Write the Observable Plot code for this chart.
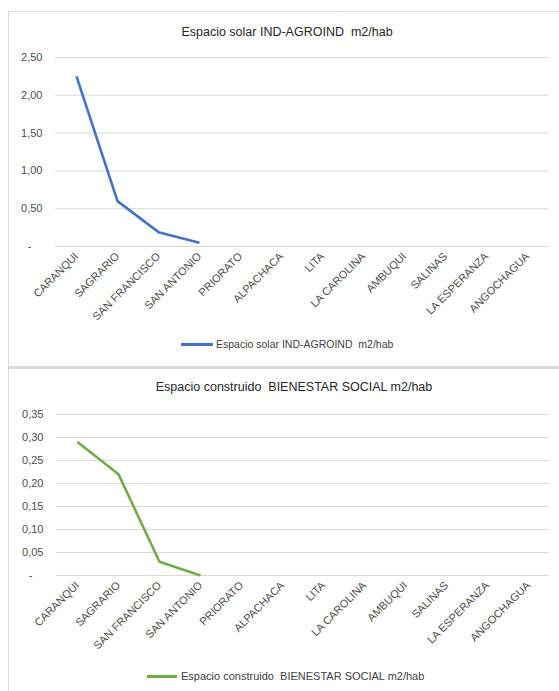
<!DOCTYPE html>
<html>
<head>
<meta charset="utf-8">
<script src="https://cdn.jsdelivr.net/npm/d3@7"></script>
<script src="https://cdn.jsdelivr.net/npm/@observablehq/plot@0.6"></script>
<style>
  html, body { margin: 0; padding: 0; background: #fff; }
  body { position: relative; width: 559px; height: 691px; overflow: hidden; font-family: "Liberation Sans", Arial, sans-serif; color: #404040; }
  .panel { position: absolute; left: 8px; width: 560px; border: 1px solid #d9d9d9; background: #fff; }
  .title { position: absolute; white-space: nowrap; font-size: 12.5px; color: #262626; transform: translateX(-50%); }
  .legend { position: absolute; white-space: nowrap; font-size: 10.5px; color: #404040; display: flex; align-items: center; }
  .sw { display: inline-block; width: 32px; height: 3px; margin-right: 3px; }
  .chart { position: absolute; left: 0; }
</style>
</head>
<body>
<div class="panel" style="top:11px;height:354px;"></div>
<div class="panel" style="top:366px;height:340px;border-top:3px solid #d9d9d9;"></div>
<div class="title" style="left:287px;top:25px;">Espacio solar IND-AGROIND&nbsp; m2/hab</div>
<div class="title" style="left:294px;top:380px;">Espacio construido&nbsp; BIENESTAR SOCIAL m2/hab</div>
<div id="c1" class="chart" style="top:40px;"></div>
<div id="c2" class="chart" style="top:400px;"></div>
<div class="legend" style="left:181px;top:338px;"><span class="sw" style="background:#4472C4"></span>Espacio solar IND-AGROIND&nbsp; m2/hab</div>
<div class="legend" style="left:147px;top:670px;font-size:11px;"><span class="sw" style="background:#70AD47;width:30px;margin-right:4px"></span>Espacio construido&nbsp; BIENESTAR SOCIAL m2/hab</div>
<script>
const categories = ["CARANQUI", "SAGRARIO", "SAN FRANCISCO", "SAN ANTONIO", "PRIORATO", "ALPACHACA", "LITA", "LA CAROLINA", "AMBUQUI", "SALINAS", "LA ESPERANZA", "ANGOCHAGUA"];
const solarValues = [2.25, 0.60, 0.19, 0.05, null, null, null, null, null, null, null, null];
const bienestarValues = [0.29, 0.22, 0.03, 0.00, null, null, null, null, null, null, null, null];
const solarTicks = [0, 0.5, 1.0, 1.5, 2.0, 2.5];
const bienestarTicks = [0, 0.05, 0.10, 0.15, 0.20, 0.25, 0.30, 0.35];

const fmt = d => d === 0 ? "-\u2002\u2002" : d.toFixed(2).replace(".", ",");

function makeChart(values, ticks, domainMax, color, opts) {
  const data = categories.map((c, i) => ({cat: c, v: values[i]}));
  return Plot.plot({
    width: 559,
    height: opts.height,
    marginLeft: opts.marginLeft,
    marginRight: 11,
    marginTop: opts.marginTop,
    marginBottom: opts.marginBottom,
    style: {fontFamily: "'Liberation Sans', Arial, sans-serif", fontSize: "11px", color: "#4d4d4d", background: "transparent"},
    x: {type: "point", domain: categories, padding: 0.5},
    y: {domain: [0, domainMax]},
    marks: [
      Plot.gridY(ticks, {stroke: "#d9d9d9", strokeOpacity: 1, strokeWidth: 1}),
      Plot.axisY(ticks, {tickFormat: fmt, tickSize: 0, tickPadding: 13, label: null, fontSize: 11}),
      Plot.axisX({tickRotate: -45, tickSize: 0, tickPadding: 8, label: null, fontSize: 11}),
      Plot.line(data.filter(d => d.v != null), {x: "cat", y: "v", stroke: color, strokeWidth: 2.6, strokeLinejoin: "round", strokeLinecap: "butt"})
    ]
  });
}

document.getElementById("c1").appendChild(makeChart(solarValues, solarTicks, 2.5, "#4472C4", {height: 300, marginLeft: 55, marginTop: 17, marginBottom: 94}));
document.getElementById("c2").appendChild(makeChart(bienestarValues, bienestarTicks, 0.35, "#70AD47", {height: 260, marginLeft: 56, marginTop: 14, marginBottom: 85}));
</script>
</body>
</html>
